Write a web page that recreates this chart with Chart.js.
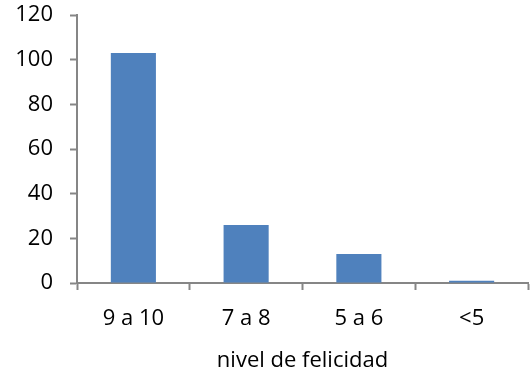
<!DOCTYPE html>
<html>
<head>
<meta charset="utf-8">
<script src="https://cdn.jsdelivr.net/npm/chart.js@4"></script>
<style>
  html, body { margin: 0; padding: 0; background: #fff; }
  #wrap { width: 530px; height: 374px; }
</style>
</head>
<body>
<div id="wrap"><canvas id="chart"></canvas></div>
<script>
const categories = ['9 a 10', '7 a 8', '5 a 6', '<5'];
const values = [103, 26, 13, 1];
const yTicks = [0, 20, 40, 60, 80, 100, 120];

const axisColor = '#868686';
const font = { family: 'Open Sans', size: 22 };

document.addEventListener('DOMContentLoaded', () => {
  const ctx = document.getElementById('chart');
  // eslint-disable-next-line no-unused-vars,no-undef
  const chart = new Chart(ctx, {
    type: 'bar',
    data: {
      labels: categories,
      datasets: [{
        data: values,
        backgroundColor: '#4f81bd',
        categoryPercentage: 0.4,
        barPercentage: 1,
      }],
    },
    options: {
      responsive: true,
      maintainAspectRatio: false,
      animation: false,
      layout: { padding: { top: 0, right: 2, left: 0, bottom: 0 } },
      plugins: {
        legend: { display: false },
        tooltip: { enabled: false },
      },
      scales: {
        x: {
          grid: {
            drawOnChartArea: false,
            drawTicks: true,
            tickLength: 7,
            tickWidth: 2,
            tickColor: axisColor,
          },
          border: { color: axisColor, width: 2 },
          ticks: { color: '#000', font, padding: 16 },
          title: {
            display: true,
            text: 'nivel de felicidad',
            color: '#000',
            font,
            padding: { top: 16, bottom: 0 },
          },
          afterFit: (scale) => { scale.height = 91; },
        },
        y: {
          min: 0,
          max: 120,
          afterBuildTicks: (scale) => { scale.ticks = yTicks.map((v) => ({ value: v })); },
          grid: {
            drawOnChartArea: false,
            drawTicks: true,
            tickLength: 7,
            tickWidth: 2,
            tickColor: axisColor,
          },
          border: { color: axisColor, width: 2 },
          ticks: { color: '#000', font, padding: 17 },
          afterFit: (scale) => { scale.width = 77; scale.paddingTop = 15; },
        },
      },
    },
  });
});
</script>
</body>
</html>
